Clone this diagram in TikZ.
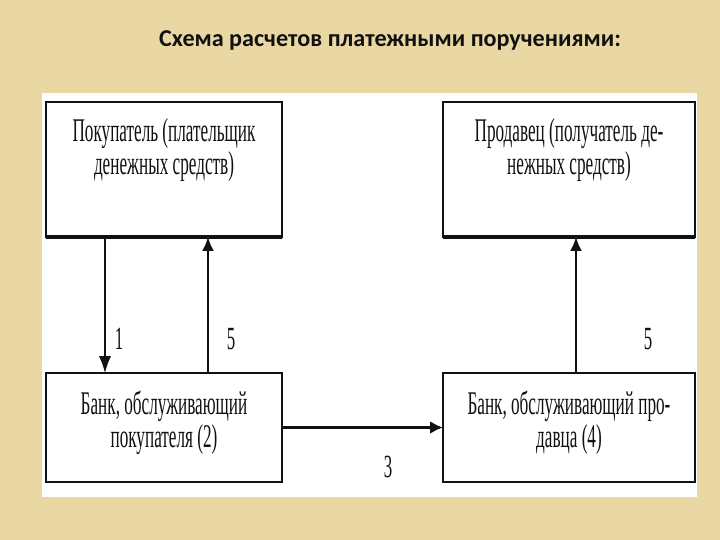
\documentclass[tikz,border=0pt]{standalone}
\usepackage{fontspec}
\setmainfont{Liberation Serif}
\newfontfamily\titlefont{Carlito}
\newfontfamily\boxfont[FakeStretch=0.52]{Liberation Serif}
\usetikzlibrary{arrows.meta}
\definecolor{paper}{RGB}{234,216,164}
\definecolor{ink}{RGB}{17,17,17}
\tikzset{
  box/.style={draw=ink, line width=1.2pt, fill=white, inner sep=0pt, outer sep=0pt},
  boxtext/.style={anchor=north, align=center, inner sep=0pt, text=ink,
    font=\boxfont\fontsize{23.5}{23.4}\selectfont},
  numtext/.style={text=ink, inner sep=0pt, font=\boxfont\fontsize{23}{23.4}\selectfont},
  thinarr/.style={draw=ink, line width=0.8pt, -{Latex[length=4.2mm,width=3mm]}},
  midarr/.style={draw=ink, line width=1.4pt, -{Latex[length=3.5mm,width=3mm]}},
  thickarr/.style={draw=ink, line width=2pt, -{Latex[length=3.2mm,width=3.2mm]}}
}
\begin{document}
\begin{tikzpicture}
    % фон и белое поле
    \fill[paper] (0,0) rectangle (18,13.5);
    \useasboundingbox (0,0) rectangle (18,13.5);
    \fill[white] (1.05,1.075) rectangle (17.425,11.175);

    % заголовок
    \node[anchor=base, text=ink, font=\titlefont\bfseries\fontsize{17.2}{18}\selectfont]
        (title) at (9.75,12.325) {Схема расчетов платежными поручениями:};

    % блоки
    \node[box, minimum width=5.9cm, minimum height=3.375cm] (buyer) at (4.1,9.2625) {};
    \node[box, minimum width=6.3cm, minimum height=3.375cm] (seller) at (14.225,9.2625) {};
    \node[box, minimum width=5.9cm, minimum height=2.725cm] (bankB) at (4.1,2.8125) {};
    \node[box, minimum width=6.3cm, minimum height=2.725cm] (bankS) at (14.225,2.8125) {};
    \draw[draw=ink, line width=2.2pt] (buyer.south west) -- (buyer.south east);
    \draw[draw=ink, line width=2.2pt] (seller.south west) -- (seller.south east);

    % тексты в блоках
    \node[boxtext] (buyerT) at ([yshift=-0.4cm]buyer.north) {Покупатель (плательщик\\денежных средств)};
    \node[boxtext] (sellerT) at ([yshift=-0.4cm]seller.north) {Продавец (получатель де-\\нежных средств)};
    \node[boxtext] (bankBT) at ([yshift=-0.45cm]bankB.north) {Банк, обслуживающий\\покупателя (2)};
    \node[boxtext] (bankST) at ([yshift=-0.45cm]bankS.north) {Банк, обслуживающий про-\\давца (4)};

    % стрелки
    \coordinate (c1) at (2.625,0);
    \coordinate (c5) at (5.2,0);
    \coordinate (c5r) at (14.4,0);
    \draw[thinarr] (buyer.south -| c1) -- (bankB.north -| c1);
    \draw[midarr] (bankB.north -| c5) -- (buyer.south -| c5);
    \draw[thickarr] (bankB.east) -- (bankS.west);
    \draw[midarr] (bankS.north -| c5r) -- (seller.south -| c5r);

    % номера
    \node[numtext] (n1) at (2.975,5.025) {1};
    \node[numtext] (n5) at (5.775,5.025) {5};
    \node[numtext] (n3) at (9.7,1.825) {3};
    \node[numtext] (n5r) at (16.2,5.025) {5};
\end{tikzpicture}
\end{document}
